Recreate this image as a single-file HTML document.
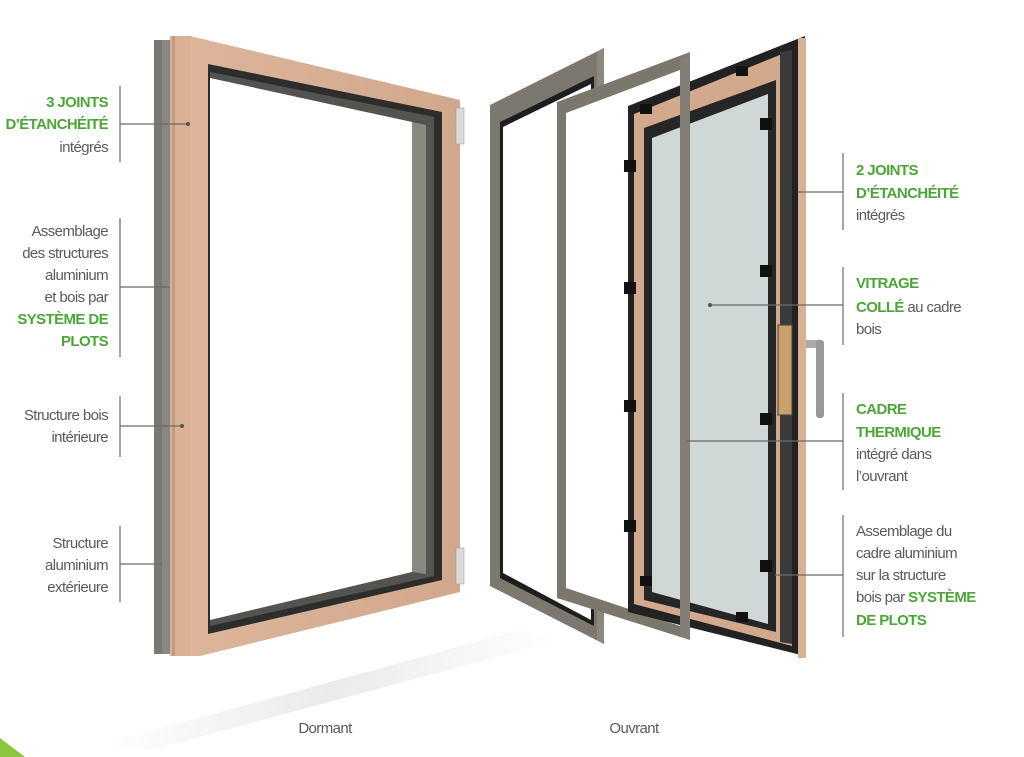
<!DOCTYPE html>
<html><head><meta charset="utf-8"><style>
html,body{margin:0;padding:0;background:#fff;}
svg{display:block;}
text{font-family:"Liberation Sans Narrow","Liberation Sans",sans-serif;font-size:15px;fill:#5a5a5a;letter-spacing:-0.6px;}
.g{fill:#4ea43a;font-weight:bold;}
.l{stroke:#6a6a6a;stroke-width:1.2;fill:none;}
</style></head><body>
<svg width="1024" height="757" viewBox="0 0 1024 757" xmlns="http://www.w3.org/2000/svg">
<defs>
<linearGradient id="sh" x1="0" y1="0" x2="1" y2="0">
<stop offset="0" stop-color="#fff"/><stop offset="0.5" stop-color="#e2e2e6"/><stop offset="1" stop-color="#fff"/></linearGradient>
<linearGradient id="wood" x1="0" y1="0" x2="1" y2="0">
<stop offset="0" stop-color="#dcb59b"/><stop offset="1" stop-color="#d2a88c"/></linearGradient>
</defs>
<polygon points="100,745 520,630 560,640 150,750" fill="url(#sh)" opacity="0.7"/>
<polygon points="0,738 25,757 0,757" fill="#8cc63f"/>

<!-- DORMANT -->
<rect x="154" y="40" width="8" height="614" fill="#7a7873"/>
<rect x="162" y="40" width="8" height="614" fill="#8a8782"/>
<rect x="170" y="36" width="22" height="620" fill="#d8b094"/>
<rect x="172" y="36" width="3" height="620" fill="#c29a80"/>
<polygon points="190,36 460,100 460,592 200,656 190,656" fill="url(#wood)"/>
<polygon points="208,64 442,112 442,580 208,634" fill="#2d2d2d"/>
<polygon points="210,72 434,117 434,576 210,626" fill="#55534f"/>
<polygon points="210,78 412,122 412,572 210,620" fill="#fff"/>
<polygon points="412,122 426,125 426,574 412,572" fill="#8b8882"/>
<rect x="456" y="108" width="8" height="36" fill="#d9d9d9" stroke="#999" stroke-width="0.5"/>
<rect x="456" y="548" width="8" height="36" fill="#d9d9d9" stroke="#999" stroke-width="0.5"/>

<!-- OUVRANT: alu frame 1 -->
<polygon points="490,105 604,48 604,644 490,586" fill="#7c7870"/>
<polygon points="500,122 594,76 594,626 500,578" fill="#1e1e1e"/>
<polygon points="503,127 591,84 591,620 503,573" fill="#fff"/>
<polygon points="597,52 604,48 604,644 597,640" fill="#8c8880"/>
<!-- alu frame 2 -->
<polygon points="557,102 690,52 690,640 557,598" fill="#7b776d"/>
<polygon points="566,113 680,70 680,626 566,588" fill="#fff"/>
<!-- sash -->
<polygon points="628,106 805,36 805,656 628,612" fill="#222"/>
<polygon points="634,114 792,50 792,646 634,604" fill="#d2a98d"/>
<polygon points="644,128 776,80 776,632 644,600" fill="#262626"/>
<polygon points="652,138 768,94 768,624 652,592" fill="#d0d7d7"/>
<polygon points="780,52 792,50 792,644 780,642" fill="#3a3a3a"/>
<rect x="798" y="38" width="8" height="620" fill="#d8b094"/>
<polygon points="680,58 690,52 690,640 680,636" fill="#827e75"/>
<g fill="#111">
<rect x="624" y="160" width="12" height="12"/><rect x="624" y="282" width="12" height="12"/>
<rect x="624" y="400" width="12" height="12"/><rect x="624" y="520" width="12" height="12"/>
<rect x="760" y="118" width="12" height="12"/><rect x="760" y="265" width="12" height="12"/>
<rect x="760" y="413" width="12" height="12"/><rect x="760" y="560" width="12" height="12"/>
<rect x="640" y="104" width="12" height="10"/><rect x="736" y="66" width="12" height="10"/>
<rect x="640" y="576" width="12" height="10"/><rect x="736" y="612" width="12" height="10"/>
</g>
<rect x="778" y="325" width="14" height="90" fill="#c9a06a" stroke="#444" stroke-width="1"/>
<rect x="806" y="340" width="16" height="8" fill="#aaa"/>
<rect x="816" y="340" width="8" height="78" rx="3" fill="#999"/>

<line class="l" x1="120" y1="86" x2="120" y2="162"/><line class="l" x1="120" y1="124" x2="188" y2="124"/><circle cx="188" cy="124" r="2" fill="#555"/>
<line class="l" x1="120" y1="218" x2="120" y2="357"/><line class="l" x1="120" y1="287" x2="170" y2="287"/>
<line class="l" x1="120" y1="396" x2="120" y2="457"/><line class="l" x1="120" y1="426" x2="182" y2="426"/><circle cx="182" cy="426" r="2" fill="#555"/>
<line class="l" x1="120" y1="526" x2="120" y2="602"/><line class="l" x1="120" y1="564" x2="162" y2="564"/>
<line class="l" x1="843" y1="153" x2="843" y2="230"/><line class="l" x1="798" y1="192" x2="843" y2="192"/>
<line class="l" x1="843" y1="267" x2="843" y2="345"/><line class="l" x1="710" y1="305" x2="843" y2="305"/><circle cx="710" cy="305" r="2" fill="#555"/>
<line class="l" x1="843" y1="393" x2="843" y2="490"/><line class="l" x1="686" y1="441" x2="843" y2="441"/>
<line class="l" x1="843" y1="515" x2="843" y2="637"/><line class="l" x1="775" y1="575" x2="843" y2="575"/>

<g text-anchor="end">
<text x="108" y="107" class="g">3 JOINTS</text>
<text x="108" y="129" class="g">D’ÉTANCHÉITÉ</text>
<text x="108" y="152">intégrés</text>
<text x="108" y="236">Assemblage</text>
<text x="108" y="258">des structures</text>
<text x="108" y="280">aluminium</text>
<text x="108" y="302">et bois par</text>
<text x="108" y="324" class="g">SYSTÈME DE</text>
<text x="108" y="346" class="g">PLOTS</text>
<text x="108" y="420">Structure bois</text>
<text x="108" y="442">intérieure</text>
<text x="108" y="548">Structure</text>
<text x="108" y="570">aluminium</text>
<text x="108" y="592">extérieure</text>
</g>
<text x="856" y="175" class="g">2 JOINTS</text>
<text x="856" y="198" class="g">D’ÉTANCHÉITÉ</text>
<text x="856" y="220">intégrés</text>
<text x="856" y="288" class="g">VITRAGE</text>
<text x="856" y="312"><tspan class="g">COLLÉ</tspan> au cadre</text>
<text x="856" y="334">bois</text>
<text x="856" y="414" class="g">CADRE</text>
<text x="856" y="437" class="g">THERMIQUE</text>
<text x="856" y="459">intégré dans</text>
<text x="856" y="481">l’ouvrant</text>
<text x="856" y="536">Assemblage du</text>
<text x="856" y="558">cadre aluminium</text>
<text x="856" y="580">sur la structure</text>
<text x="856" y="602">bois par <tspan class="g">SYSTÈME</tspan></text>
<text x="856" y="625" class="g">DE PLOTS</text>

<text x="325" y="733" text-anchor="middle">Dormant</text>
<text x="634" y="733" text-anchor="middle">Ouvrant</text>
</svg>
</body></html>
